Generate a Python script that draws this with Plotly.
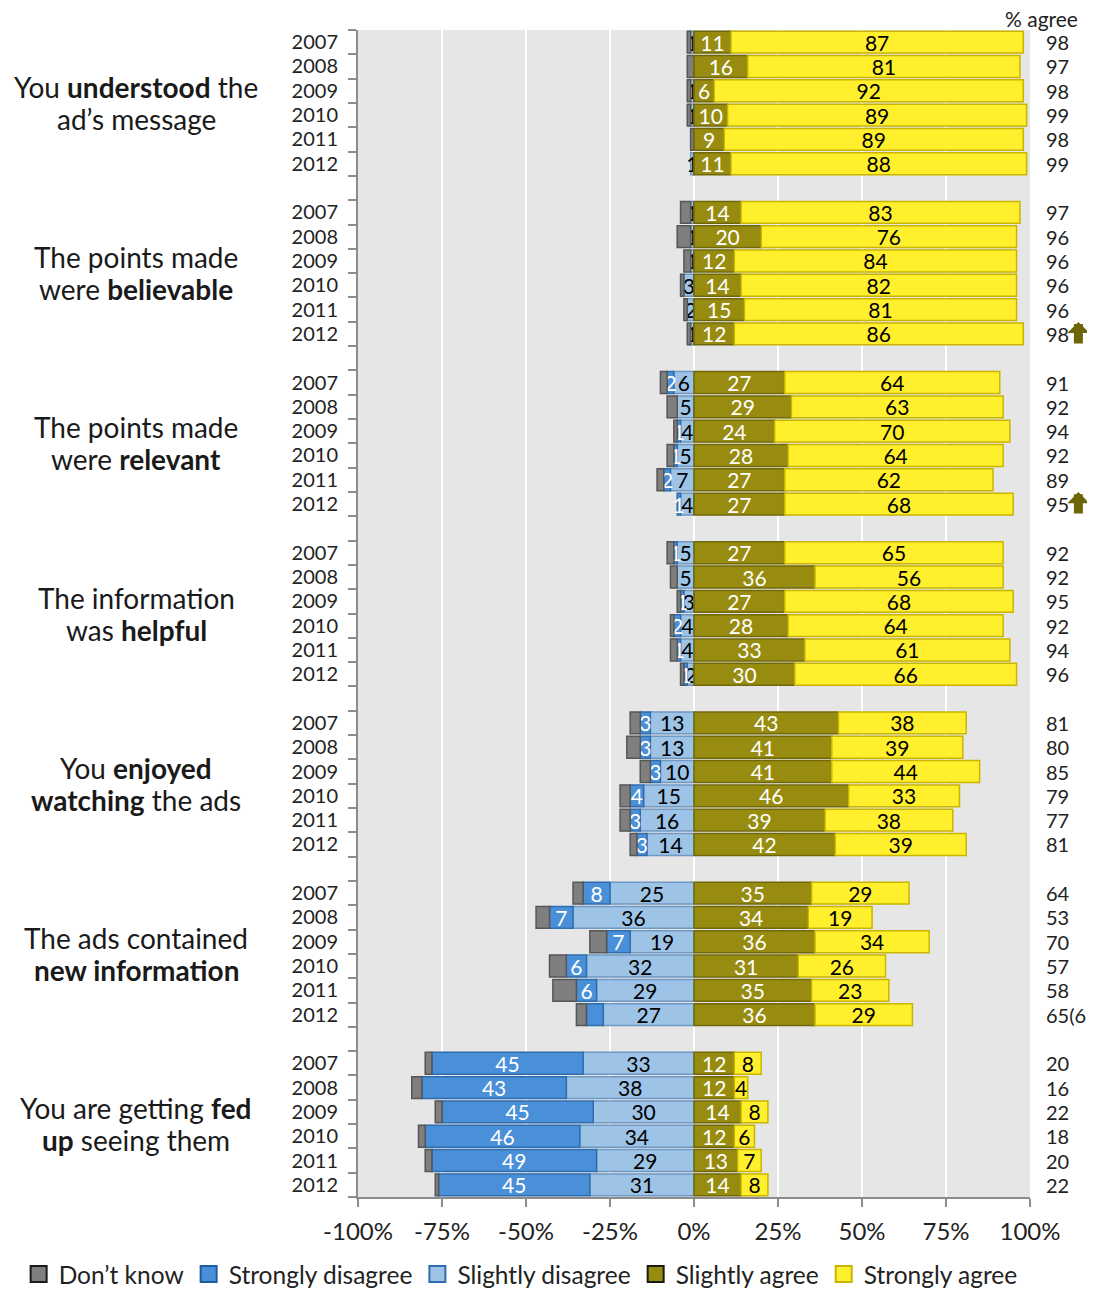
import plotly.graph_objects as go

# ---------------- data ----------------
questions = [
    "You <b>understood</b> the<br>ad\u2019s message",
    "The points made<br>were <b>believable</b>",
    "The points made<br>were <b>relevant</b>",
    "The information<br>was <b>helpful</b>",
    "You <b>enjoyed</b><br><b>watching</b> the ads",
    "The ads contained<br><b>new information</b>",
    "You are getting <b>fed</b><br><b>up</b> seeing them",
]
years = ["2007", "2008", "2009", "2010", "2011", "2012"]

dont_know = [
    [1, 2, 1, 1, 1, 0],
    [3, 4, 2, 1, 1, 1],
    [2, 3, 1, 2, 2, 0],
    [2, 2, 1, 1, 2, 1],
    [3, 4, 3, 3, 3, 2],
    [3, 4, 5, 5, 7, 3],
    [2, 3, 2, 2, 2, 1],
]
strongly_disagree = [
    [0, 0, 0, 0, 0, 0],
    [0, 0, 0, 0, 0, 0],
    [2, 0, 1, 1, 2, 1],
    [1, 0, 1, 2, 1, 1],
    [3, 3, 3, 4, 3, 3],
    [8, 7, 7, 6, 6, 5],
    [45, 43, 45, 46, 49, 45],
]
slightly_disagree = [
    [1, 0, 1, 1, 0, 1],
    [1, 1, 1, 3, 2, 1],
    [6, 5, 4, 5, 7, 4],
    [5, 5, 3, 4, 4, 2],
    [13, 13, 10, 15, 16, 14],
    [25, 36, 19, 32, 29, 27],
    [33, 38, 30, 34, 29, 31],
]
slightly_agree = [
    [11, 16, 6, 10, 9, 11],
    [14, 20, 12, 14, 15, 12],
    [27, 29, 24, 28, 27, 27],
    [27, 36, 27, 28, 33, 30],
    [43, 41, 41, 46, 39, 42],
    [35, 34, 36, 31, 35, 36],
    [12, 12, 14, 12, 13, 14],
]
strongly_agree = [
    [87, 81, 92, 89, 89, 88],
    [83, 76, 84, 82, 81, 86],
    [64, 63, 70, 64, 62, 68],
    [65, 56, 68, 64, 61, 66],
    [38, 39, 44, 33, 38, 39],
    [29, 19, 34, 26, 23, 29],
    [8, 4, 8, 6, 7, 8],
]
pct_agree = [
    [98, 97, 98, 99, 98, 99],
    [97, 96, 96, 96, 96, 98],
    [91, 92, 94, 92, 89, 95],
    [92, 92, 95, 92, 94, 96],
    [81, 80, 85, 79, 77, 81],
    [64, 53, 70, 57, 58, 65],
    [20, 16, 22, 18, 20, 22],
]
agree_notes = {(5, 5): "(66)"}          # extra text after % agree
significant_up = [(1, 5), (2, 5)]        # arrows
hidden_labels = {("Strongly disagree", 5, 5)}
x_ticks = [-100, -75, -50, -25, 0, 25, 50, 75, 100]

# ---------------- styling ----------------
FONT = "Lato, 'Open Sans', sans-serif"
GAP = 1  # empty slot between question groups
n_years = len(years)

def slot(g, i):
    return g * (n_years + GAP) + i

ys = [slot(g, i) for g in range(len(questions)) for i in range(n_years)]
n_slots = len(questions) * (n_years + GAP) - GAP

def flat(arr):
    return [v for row in arr for v in row]

series = [
    # name, data, fill, border, text colour, sign, legend rank
    ("Slightly disagree", slightly_disagree, "#9DC3E6", "#6F98C2", "black", -1, 3),
    ("Strongly disagree", strongly_disagree, "#4A90D9", "#2F6CAD", "white", -1, 2),
    ("Don\u2019t know", dont_know, "#7F7F7F", "#565656", "black", -1, 1),
    ("Slightly agree", slightly_agree, "#978C0F", "#706808", "white", 1, 4),
    ("Strongly agree", strongly_agree, "#FFEF2C", "#C9B500", "black", 1, 5),
]
legend_border = {
    "Slightly disagree": "#2F6CAD", "Strongly disagree": "#1F5A9E",
    "Don\u2019t know": "#1a1a1a", "Slightly agree": "#1a1a1a", "Strongly agree": "#C9B500",
}

fig = go.Figure()
for name, data, fill, border, tcol, sign, rank in series:
    vals = flat(data)
    texts = []
    for g in range(len(questions)):
        for i in range(n_years):
            v = data[g][i]
            if name == "Don\u2019t know" or v == 0 or (name, g, i) in hidden_labels:
                texts.append("")
            else:
                texts.append(str(v))
    fig.add_trace(go.Bar(
        name=name,
        y=ys,
        x=[sign * v for v in vals],
        orientation="h",
        marker=dict(color=fill, line=dict(color=border, width=1.5)),
        text=texts,
        textposition="inside",
        insidetextanchor="middle",
        textangle=0,
        constraintext="none",
        textfont=dict(family=FONT, size=21, color=tcol),
        showlegend=False,
        hoverinfo="skip",
    ))
    # legend entry with a larger square swatch
    fig.add_trace(go.Scatter(
        name=name, x=[None], y=[None], mode="markers",
        marker=dict(symbol="square", size=19, color=fill,
                    line=dict(color=legend_border[name], width=2)),
        legendrank=rank, showlegend=True, hoverinfo="skip",
    ))

# % agree column
annotations = []
for g in range(len(questions)):
    for i in range(n_years):
        txt = str(pct_agree[g][i]) + agree_notes.get((g, i), "")
        annotations.append(dict(
            x=1.021, xref="paper", y=slot(g, i), yref="y",
            text=txt, showarrow=False, xanchor="left", yanchor="middle",
            font=dict(family=FONT, size=20, color="#222222"),
        ))
for g, i in significant_up:
    annotations.append(dict(
        x=1.072, xref="paper", y=slot(g, i), yref="y",
        ax=0, ay=23, axref="pixel", ayref="pixel", yshift=12,
        showarrow=True, arrowhead=1, arrowsize=0.41, arrowwidth=9,
        arrowcolor="#6E6508", text="", standoff=0,
    ))
annotations.append(dict(
    x=1.0, xref="paper", y=1.0, yref="paper", xanchor="right", yanchor="middle",
    text="% agree", showarrow=False, yshift=12, xshift=50,
    font=dict(family=FONT, size=21, color="#222222"),
))
# question labels (one annotation per line to control line spacing)
for g, q in enumerate(questions):
    lines = q.split("<br>")
    for k, line in enumerate(lines):
        annotations.append(dict(
            x=-0.33, xref="paper", y=slot(g, (n_years - 1) / 2), yref="y",
            yshift=16 * (len(lines) - 1) - 32 * k,
            text=line, showarrow=False, xanchor="center", yanchor="middle",
            font=dict(family=FONT, size=28, color="#1a1a1a"),
        ))

boundaries = [k - 0.5 for k in range(n_slots + 1)]

fig.update_layout(
    width=1079, height=1280,
    barmode="relative",
    bargap=0.1,
    plot_bgcolor="#E6E6E6",
    paper_bgcolor="white",
    margin=dict(l=350, r=57, t=22, b=91, autoexpand=False),
    font=dict(family=FONT, color="#222222"),
    annotations=annotations,
    showlegend=True,
    legend=dict(
        orientation="h", x=-0.505, xanchor="left", y=-0.066, yanchor="middle",
        font=dict(family=FONT, size=24.5, color="#222222"),
        traceorder="normal", itemclick=False, itemsizing="trace",
    ),
)
fig.update_xaxes(
    range=[-100, 100],
    tickmode="array",
    tickvals=x_ticks,
    ticktext=[f"{v}%" for v in x_ticks],
    showgrid=True, gridcolor="white", gridwidth=1.5,
    zeroline=False,
    showline=True, linecolor="#8C8C8C", linewidth=2,
    ticks="outside", ticklen=8, tickcolor="#8C8C8C", tickwidth=1.5,
    tickfont=dict(family=FONT, size=24, color="#222222"),
    ticklabelstandoff=4,
)
fig.update_yaxes(
    range=[n_slots - 0.5, -0.5],
    tickmode="array",
    tickvals=ys,
    ticktext=years * len(questions),
    ticks="",
    showgrid=False, zeroline=False,
    showline=True, linecolor="#8C8C8C", linewidth=2,
    tickfont=dict(family=FONT, size=20, color="#222222"),
    ticklabelstandoff=14,
    minor=dict(tickmode="array", tickvals=boundaries, ticks="outside",
               ticklen=8, tickcolor="#8C8C8C", tickwidth=1.5, showgrid=False),
)

fig.write_html("out.html")
